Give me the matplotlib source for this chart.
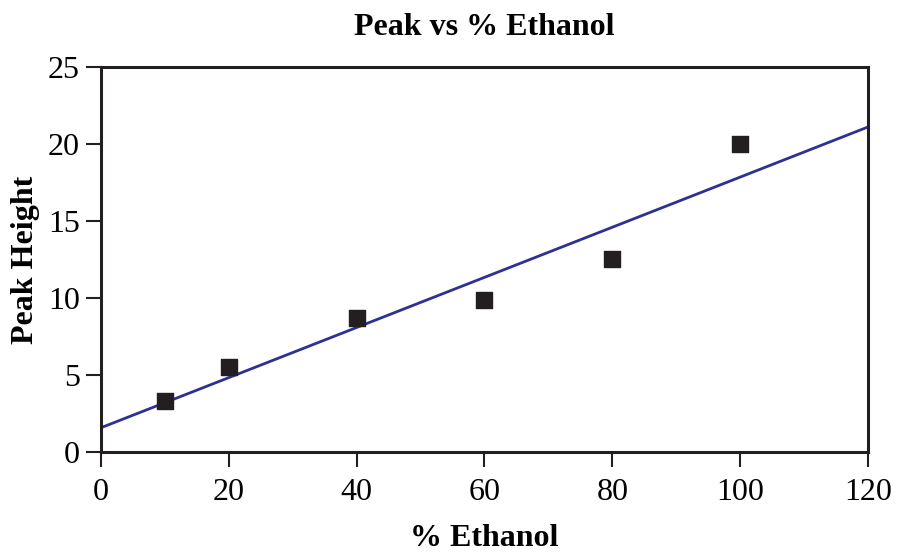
import numpy as np
import matplotlib
matplotlib.use('Agg')
import matplotlib.pyplot as plt

# measured data
ethanol = [10, 20, 40, 60, 80, 100]
peak = [3.3, 5.5, 8.7, 9.9, 12.5, 20.0]
x_ticks = [0, 20, 40, 60, 80, 100, 120]
y_ticks = [0, 5, 10, 15, 20, 25]

plt.rcParams['font.family'] = ['Liberation Serif', 'DejaVu Serif']

fig = plt.figure(figsize=(8.99, 5.52), dpi=100)
ax = fig.add_axes([0.1123, 0.1812, 0.8532, 0.6974])

# linear fit line across the full axis
slope, intercept = np.polyfit(ethanol, peak, 1)
xs = np.array([0, 120])
ax.plot(xs, slope * xs + intercept, color='#2e3192', lw=2.0, zorder=2)

ax.scatter(ethanol, peak, marker='s', s=120, color='#231f20', zorder=3)

ax.set_xlim(0, 120)
ax.set_ylim(0, 25)
ax.set_xticks(x_ticks)
ax.set_yticks(y_ticks)
ax.tick_params(direction='out', length=11, width=1.5, color='#231f20',
               labelsize=23)
ax.tick_params(axis='x', pad=8)
ax.tick_params(axis='y', pad=4)
for s in ax.spines.values():
    s.set_linewidth(2.2)
    s.set_color('#231f20')

ax.set_title('Peak vs % Ethanol', fontsize=23, fontweight='bold', pad=23)
ax.set_xlabel('% Ethanol', fontsize=23, fontweight='bold', labelpad=12)
ax.set_ylabel('Peak Height', fontsize=23, fontweight='bold', labelpad=6)

fig.savefig('out.png', dpi=100)
